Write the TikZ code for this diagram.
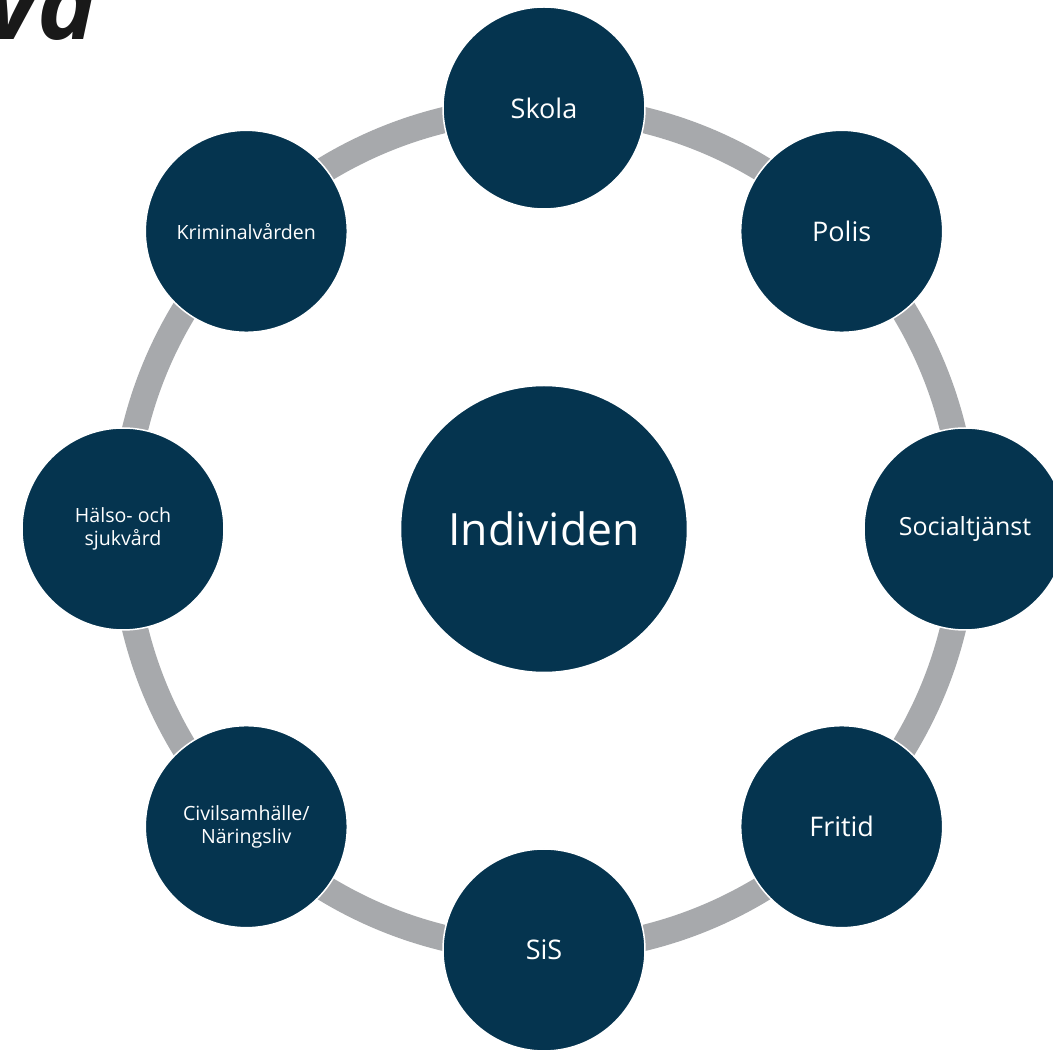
\documentclass[tikz,border=0pt]{standalone}
\usepackage{fontspec}
\setmainfont{Open Sans}
\usepackage{tikz}
\usetikzlibrary{backgrounds}
\definecolor{navy}{HTML}{05344F}
\definecolor{ringgray}{HTML}{A7A9AC}
\tikzset{
		actor/.style={circle, fill=navy, draw=white, line width=1.5pt, minimum size=202pt, inner sep=0pt,
			text=white, align=center, font=\fontsize{27}{32}\selectfont},
		small actor/.style={actor, font=\fontsize{19.6}{23}\selectfont},
		center actor/.style={actor, minimum size=287pt, font=\fontsize{44.5}{54}\selectfont},
		ring link/.style={draw=ringgray, line width=26pt, bend left=22.5, looseness=0.886}
	}

\begin{document}
\begin{tikzpicture}[x=1pt, y=1pt]
				\useasboundingbox (-544,-522) rectangle (509,529);
				\clip (-544,-522) rectangle (509,529);
				\node[anchor=base east, inner sep=0pt, text=black!90,
					font=\fontsize{100}{100}\selectfont\bfseries\itshape] (va) at (-447,489) {va};

				\node[center actor]       (ind)    at (0,0)     {Individen};
				\node[actor]              (skola)  at (90:421)  {Skola};
				\node[actor]              (polis)  at (45:421)  {Polis};
				\node[actor, font=\fontsize{25}{30}\selectfont]
				                          (soc)    at (0:421)   {Socialtjänst};
				\node[actor]              (fritid) at (-45:421) {Fritid};
				\node[actor]              (sis)    at (-90:421) {SiS};
				\node[small actor]        (civil)  at (-135:421) {Civilsamhälle/\\Näringsliv};
				\node[small actor]        (halso)  at (180:421) {Hälso- och\\sjukvård};
				\node[small actor]        (krim)   at (135:421) {Kriminalvården};

				\begin{scope}[on background layer]
					\foreach \a/\b in {skola/polis, polis/soc, soc/fritid, fritid/sis,
						sis/civil, civil/halso, halso/krim, krim/skola}
						\path[ring link] (\a.center) to (\b.center);
				\end{scope}
			\end{tikzpicture}
\end{document}
